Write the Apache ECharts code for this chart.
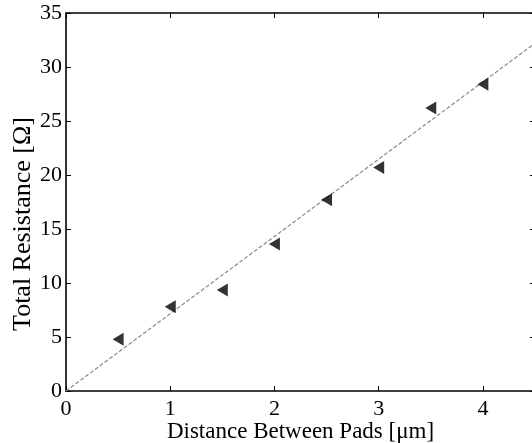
<!DOCTYPE html>
<html>
<head>
<meta charset="utf-8">
<script src="https://cdn.jsdelivr.net/npm/echarts@6/dist/echarts.min.js"></script>
<style>
html,body{margin:0;padding:0;background:#fff;}
#chart{width:532px;height:443px;}
</style>
</head>
<body>
<div id="chart"></div>
<script>
var distances = [0.5, 1, 1.5, 2, 2.5, 3, 3.5, 4];
var resistances = [4.8, 7.8, 9.35, 13.6, 17.7, 20.7, 26.2, 28.4];
var fitX = [0, 4.5];
var fitY = [0, 32.2];
var xTicks = [0, 1, 2, 3, 4];
var yTicks = [0, 5, 10, 15, 20, 25, 30, 35];

var font = 'Liberation Serif';
var chart = echarts.init(document.getElementById('chart'), null, {renderer: 'canvas'});

function axisLine() { return {show: true, onZero: false, lineStyle: {color: '#000', width: 1.6}}; }
function tickIn() { return {show: true, inside: true, length: 5, lineStyle: {color: '#000', width: 1}}; }

chart.setOption({
  backgroundColor: '#fff',
  animation: false,
  grid: {left: 66, top: 13, width: 469, height: 378, containLabel: false, outerBoundsMode: 'none'},
  xAxis: [{
    type: 'value', min: 0, max: 4.5, interval: 1,
    position: 'bottom',
    axisLine: axisLine(), axisTick: tickIn(), splitLine: {show: false},
    axisLabel: {color: '#000', fontFamily: font, fontSize: 22, margin: 7,
      formatter: function (v) { return xTicks.indexOf(v) >= 0 ? String(v) : ''; }},
    name: 'Distance Between Pads [\u03bcm]', nameLocation: 'middle', nameGap: 29,
    nameMoveOverlap: false,
    nameTextStyle: {color: '#000', fontFamily: font, fontSize: 23}
  }, {
    type: 'value', min: 0, max: 4.5, interval: 1,
    position: 'top',
    axisLine: axisLine(), axisTick: tickIn(), splitLine: {show: false},
    axisLabel: {show: false}
  }],
  yAxis: [{
    type: 'value', min: 0, max: 35, interval: 5,
    position: 'left',
    axisLine: axisLine(), axisTick: tickIn(), splitLine: {show: false},
    axisLabel: {color: '#000', fontFamily: font, fontSize: 22, margin: 4,
      formatter: function (v) { return yTicks.indexOf(v) >= 0 ? String(v) : ''; }},
    name: 'Total Resistance [\u03a9]', nameLocation: 'middle', nameGap: 30,
    nameMoveOverlap: false,
    nameTextStyle: {color: '#000', fontFamily: font, fontSize: 26, padding: [0, 44, 0, 0]}
  }, {
    type: 'value', min: 0, max: 35, interval: 5,
    position: 'right',
    axisLine: axisLine(), axisTick: tickIn(), splitLine: {show: false},
    axisLabel: {show: false}
  }],
  series: [{
    type: 'line',
    data: fitX.map(function (x, i) { return [x, fitY[i]]; }),
    showSymbol: false, symbol: 'none',
    lineStyle: {color: '#8a8a8a', width: 1.2, type: [4, 2]},
    silent: true, z: 2
  }, {
    type: 'scatter',
    data: distances.map(function (x, i) { return [x, resistances[i]]; }),
    symbol: 'triangle', symbolSize: [13, 11], symbolRotate: 90,
    itemStyle: {color: '#000'},
    z: 3
  }]
});
</script>
</body>
</html>
